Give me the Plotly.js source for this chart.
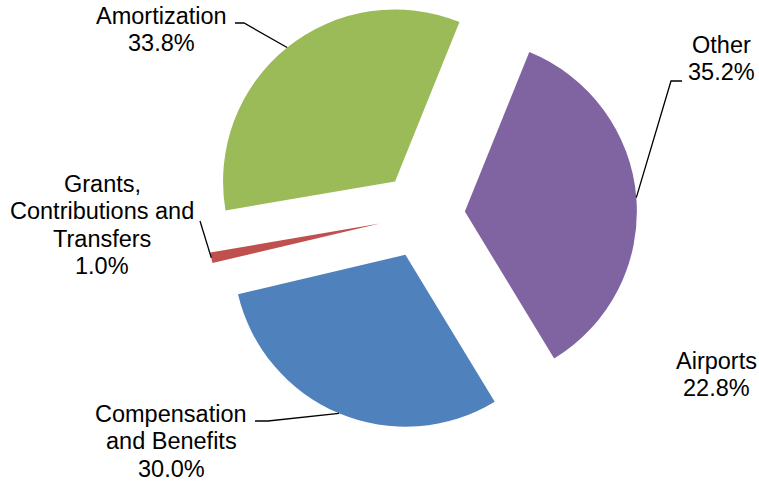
<!DOCTYPE html>
<html>
<head>
<meta charset="utf-8">
<script src="https://cdn.plot.ly/plotly-3.0.1.min.js"></script>
<style>
  html, body { margin: 0; padding: 0; background: #ffffff; }
  #chart { width: 759px; height: 484px; }
</style>
</head>
<body>
<div id="chart"></div>
<script>
// Expense breakdown, exploded pie. Slices run clockwise from just past 12 o'clock.
const sliceNames = [
  ['Other'],
  ['Compensation', 'and Benefits'],
  ['Grants,', 'Contributions and', 'Transfers'],
  ['Amortization'],
];
const sliceValues = [35.2, 30.0, 1.0, 33.8];
const sliceColors = ['#8064A2', '#4F81BD', '#C0504D', '#9BBB59'];

// A label that sits on the chart without a slice of its own.
const strayName = ['Airports'];
const strayValue = 22.8;

// --- layout (pixels) ---------------------------------------------------------
const W = 759;
const H = 484;
const CX = 422;
const CY = 215;
const R = 172;
const PULL = 0.25;
const ROTATION = 22;
const FONT_SIZE = 23.5;
const LINE_GAP = 27.5;

// label centre x and first baseline y, per slice
const labelAnchors = [[721, 53], [171, 422], [102, 192], [161, 24]];
const strayAnchor = [716, 369];
// leader line points from the label towards the slice edge
const leaderElbows = [
  [[682, 81], [671, 81]],
  [[255, 421], [268, 421]],
  [[200, 221]],
  [[235, 23], [244, 23]],
];

const px = (x) => x / W;
const py = (y) => 1 - y / H;

function labelLines(name, value) {
  return [...name, value.toFixed(1) + '%'];
}

function textAnnotations(lines, [x, y0]) {
  return lines.map((line, i) => ({
    text: line,
    x: px(x),
    y: py(y0 + i * LINE_GAP - FONT_SIZE * 0.36),
    xref: 'paper',
    yref: 'paper',
    xanchor: 'center',
    yanchor: 'middle',
    showarrow: false,
  }));
}

// point on the exploded arc at the middle of slice i
function arcPoint(i) {
  const total = sliceValues.reduce((a, b) => a + b, 0);
  const before = sliceValues.slice(0, i).reduce((a, b) => a + b, 0);
  const mid = (ROTATION + ((before + sliceValues[i] / 2) / total) * 360) * Math.PI / 180;
  const dist = R * (1 + PULL);
  return [CX + dist * Math.sin(mid), CY - dist * Math.cos(mid)];
}

const annotations = [];
const shapes = [];
sliceNames.forEach((name, i) => {
  annotations.push(...textAnnotations(labelLines(name, sliceValues[i]), labelAnchors[i]));
  const pts = [...leaderElbows[i], arcPoint(i)];
  const path = pts
    .map(([x, y], k) => `${k === 0 ? 'M' : 'L'} ${px(x)},${py(y)}`)
    .join(' ');
  shapes.push({
    type: 'path',
    xref: 'paper',
    yref: 'paper',
    path,
    line: { color: '#000000', width: 1.3 },
  });
});
annotations.push(...textAnnotations(labelLines(strayName, strayValue), strayAnchor));

const half = R * (1 + PULL);
const trace = {
  type: 'pie',
  labels: sliceNames.map((n) => n.join(' ')),
  values: sliceValues,
  sort: false,
  direction: 'clockwise',
  rotation: ROTATION,
  pull: sliceValues.map(() => PULL),
  marker: { colors: sliceColors, line: { width: 0 } },
  textinfo: 'none',
  hoverinfo: 'none',
  domain: {
    x: [px(CX - half), px(CX + half)],
    y: [py(CY + half), py(CY - half)],
  },
};

const layout = {
  width: W,
  height: H,
  margin: { l: 0, r: 0, t: 0, b: 0 },
  paper_bgcolor: '#ffffff',
  showlegend: false,
  font: { family: '"Liberation Sans", Arial, sans-serif', size: FONT_SIZE, color: '#000000' },
  annotations,
  shapes,
};

Plotly.newPlot('chart', [trace], layout, { displayModeBar: false, staticPlot: true });
</script>
</body>
</html>
